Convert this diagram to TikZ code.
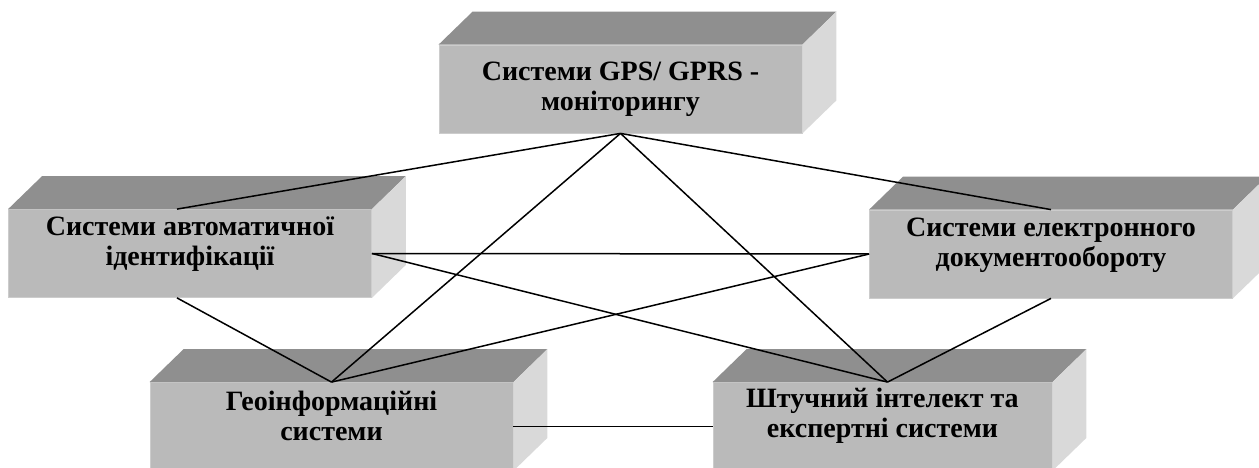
\documentclass[tikz,border=0pt]{standalone}
\usepackage{fontspec}
\setmainfont{Liberation Serif}

\definecolor{frontgray}{gray}{0.73}
\definecolor{topgray}{gray}{0.56}
\definecolor{sidegray}{gray}{0.85}
\definecolor{edgegray}{gray}{0.80}

% top and side faces of a box, hung on the front node
\newcommand\slab[1]{%
  \fill[topgray] (#1.north west) -- ++(34,-33)
    -- ([shift={(34,-33)}]#1.north east) -- (#1.north east) -- cycle;
  \fill[sidegray] (#1.north east) -- ++(34,-33)
    -- ([shift={(34,-33)}]#1.south east) -- (#1.south east) -- cycle;}

\begin{document}
\begin{tikzpicture}[
  x=1pt, y=-1pt,
  face/.style ={fill=frontgray, draw=edgegray, line width=0.8pt,
                minimum width=363pt, minimum height=88pt, inner sep=0pt},
  txt/.style  ={font=\fontsize{28}{30}\selectfont\bfseries, align=center,
                inner sep=0pt},
  link/.style ={line width=1.5pt},
]
\useasboundingbox (0,0) rectangle (1259,468);
\clip (0,0) rectangle (1259,468);

\node[face] (gps)  at (620.5,89)   {};
\node[face] (auto) at (190,253.5)  {};
\node[face] (edo)  at (1051,254)   {};
\node[face] (geo)  at (331.5,426.5) {};
\node[face, minimum width=339pt] (ai) at (882.5,426.5) {};
\foreach \b in {gps,auto,edo,geo,ai} \slab{\b};

\node[txt] (gps-t) at (gps) {Системи GPS/ GPRS -\\моніторингу};
\node[txt, yshift=9pt] (auto-t) at (auto) {Системи автоматичної\\ідентифікації};
\node[txt, yshift=9pt] (edo-t) at (edo) {Системи електронного\\документообороту};
\node[txt, yshift=11pt] (geo-t) at (geo) {Геоінформаційні\\системи};
\node[txt, yshift=11pt] (ai-t) at (ai) {Штучний інтелект та\\експертні системи};

\coordinate (auto-n) at ([xshift=-13pt]auto.north);
\coordinate (auto-s) at ([xshift=-13pt]auto.south);
\coordinate (ai-n)   at ([xshift=5pt]ai.north);

\foreach \a/\b in {gps.south/auto-n, gps.south/edo.north, gps.south/geo.north,
                   gps.south/ai-n, auto.east/edo.west, auto.east/ai-n,
                   edo.west/geo.north, auto-s/geo.north, edo.south/ai-n,
                   geo.east/ai.west}
  \draw[link] (\a) -- (\b);
\end{tikzpicture}
\end{document}
